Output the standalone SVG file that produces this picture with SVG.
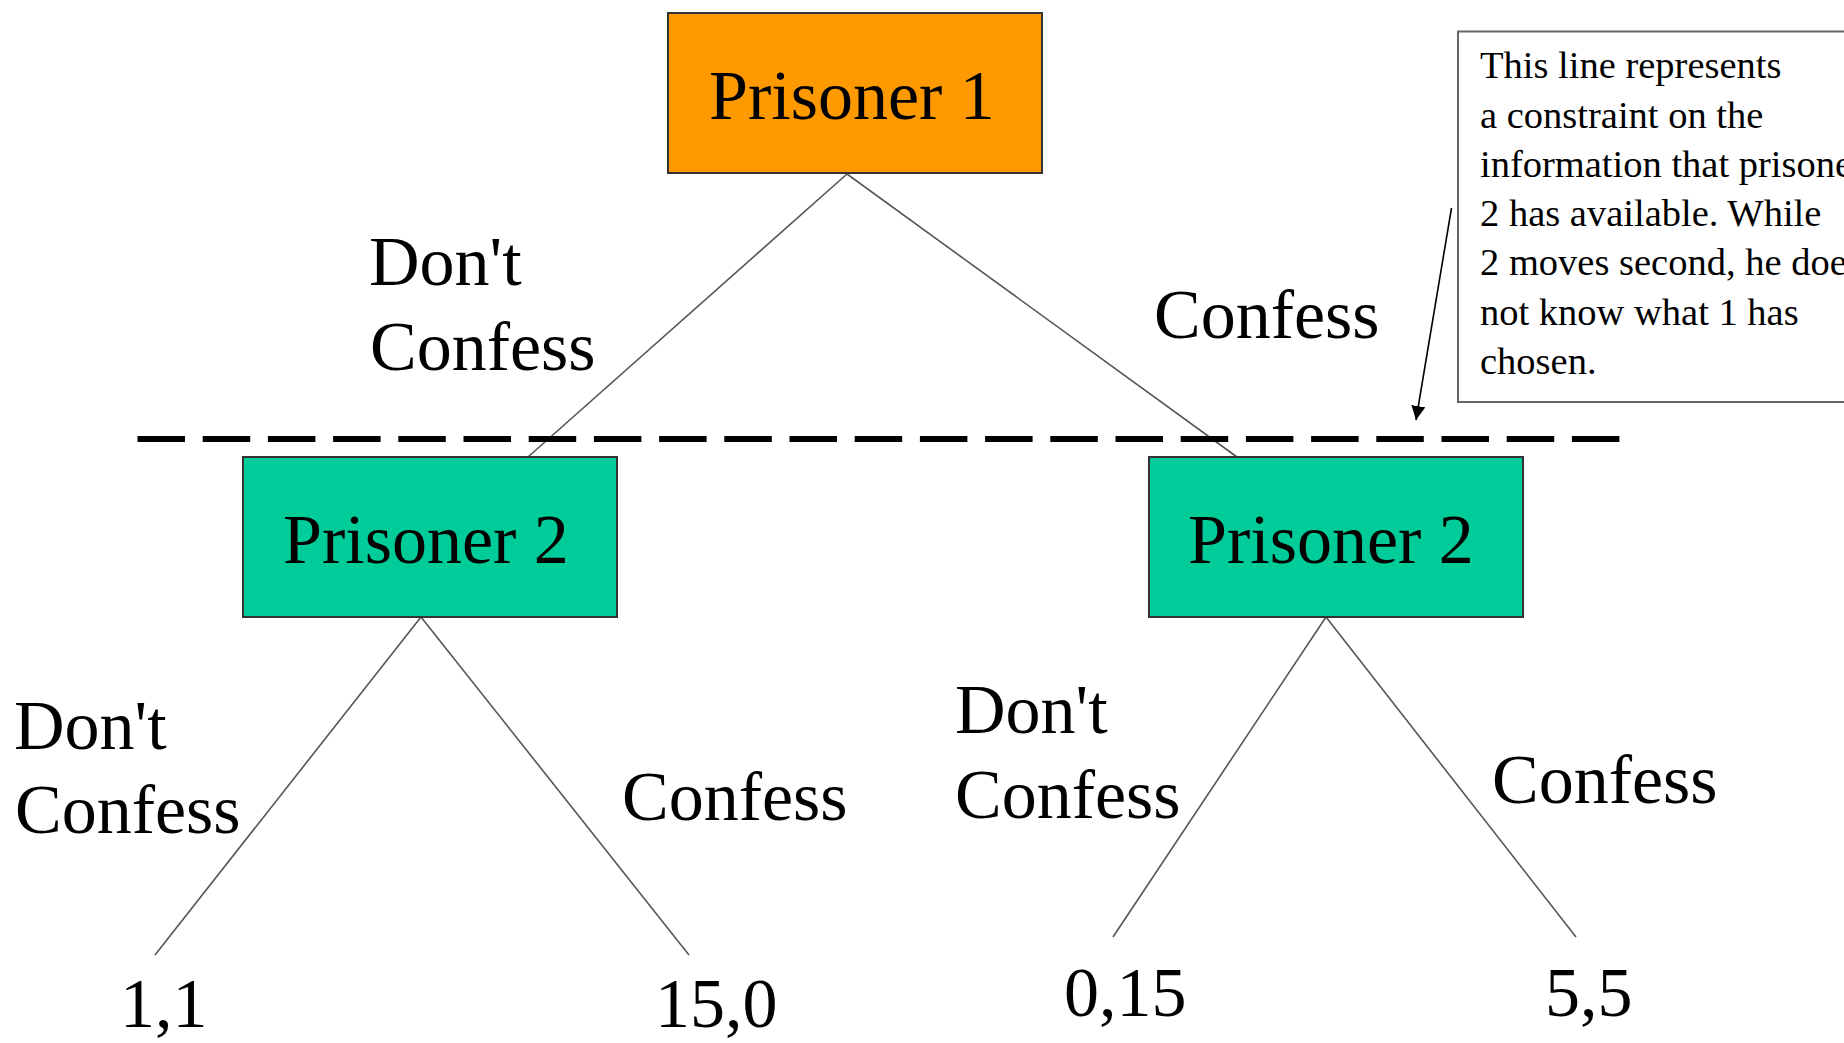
<svg xmlns="http://www.w3.org/2000/svg" width="1844" height="1043" viewBox="0 0 1844 1043">
<defs>
<style>
text{font-family:"Liberation Serif","Times New Roman",serif;fill:#000}
.lbl{font-size:70px}
.note{font-size:38.5px}
.node{stroke:#333;stroke-width:2}
.edge{stroke:#555;stroke-width:1.6;fill:none}
</style>
<marker id="ah" viewBox="0 0 10 10" refX="10" refY="5" markerWidth="14" markerHeight="14" markerUnits="userSpaceOnUse" orient="auto">
<path d="M0,0 L10,5 L0,10 z" fill="#000"/>
</marker>
</defs>
<rect width="1844" height="1043" fill="#fff"/>

<g id="connectors">
<line class="edge" x1="847" y1="174" x2="528" y2="457"/>
<line class="edge" x1="847" y1="174" x2="1237" y2="457"/>
<line class="edge" x1="421" y1="617" x2="155" y2="955"/>
<line class="edge" x1="421" y1="617" x2="689" y2="955"/>
<line class="edge" x1="1326" y1="617" x2="1113" y2="937"/>
<line class="edge" x1="1326" y1="617" x2="1576" y2="937"/>
<line id="info-set" x1="137.5" y1="439" x2="1619.5" y2="439" stroke="#000" stroke-width="6" stroke-dasharray="47.5 17.7"/>
<line id="note-arrow" x1="1451.5" y1="208" x2="1416" y2="420" stroke="#000" stroke-width="1.6" marker-end="url(#ah)"/>
</g>

<g id="prisoner1">
<rect class="node" x="668" y="13" width="374" height="160" fill="#FF9900"/>
<text class="lbl" x="709" y="119">Prisoner 1</text>
</g>
<g id="prisoner2-left">
<rect class="node" x="243" y="457" width="374" height="160" fill="#00CC99"/>
<text class="lbl" x="283" y="563">Prisoner 2</text>
</g>
<g id="prisoner2-right">
<rect class="node" x="1149" y="457" width="374" height="160" fill="#00CC99"/>
<text class="lbl" x="1188" y="563">Prisoner 2</text>
</g>

<g id="edge-labels">
<text class="lbl" x="369" y="285">Don't</text>
<text class="lbl" x="370" y="370">Confess</text>
<text class="lbl" x="1154" y="338">Confess</text>
<text class="lbl" x="14" y="749">Don't</text>
<text class="lbl" x="15" y="833">Confess</text>
<text class="lbl" x="622" y="820">Confess</text>
<text class="lbl" x="955" y="733">Don't</text>
<text class="lbl" x="955" y="818">Confess</text>
<text class="lbl" x="1492" y="803">Confess</text>
</g>

<g id="payoffs">
<text class="lbl" x="120" y="1027">1,1</text>
<text class="lbl" x="655" y="1027">15,0</text>
<text class="lbl" x="1064" y="1016">0,15</text>
<text class="lbl" x="1545" y="1016">5,5</text>
</g>

<g id="note">
<rect x="1458" y="31.5" width="420" height="370.5" fill="#fff" stroke="#666" stroke-width="2"/>
<text class="note" x="1480" y="78">This line represents</text>
<text class="note" x="1480" y="128">a constraint on the</text>
<text class="note" x="1480" y="177">information that prisoner</text>
<text class="note" x="1480" y="226">2 has available. While</text>
<text class="note" x="1480" y="275">2 moves second, he does</text>
<text class="note" x="1480" y="325">not know what 1 has</text>
<text class="note" x="1480" y="374">chosen.</text>
</g>
</svg>
